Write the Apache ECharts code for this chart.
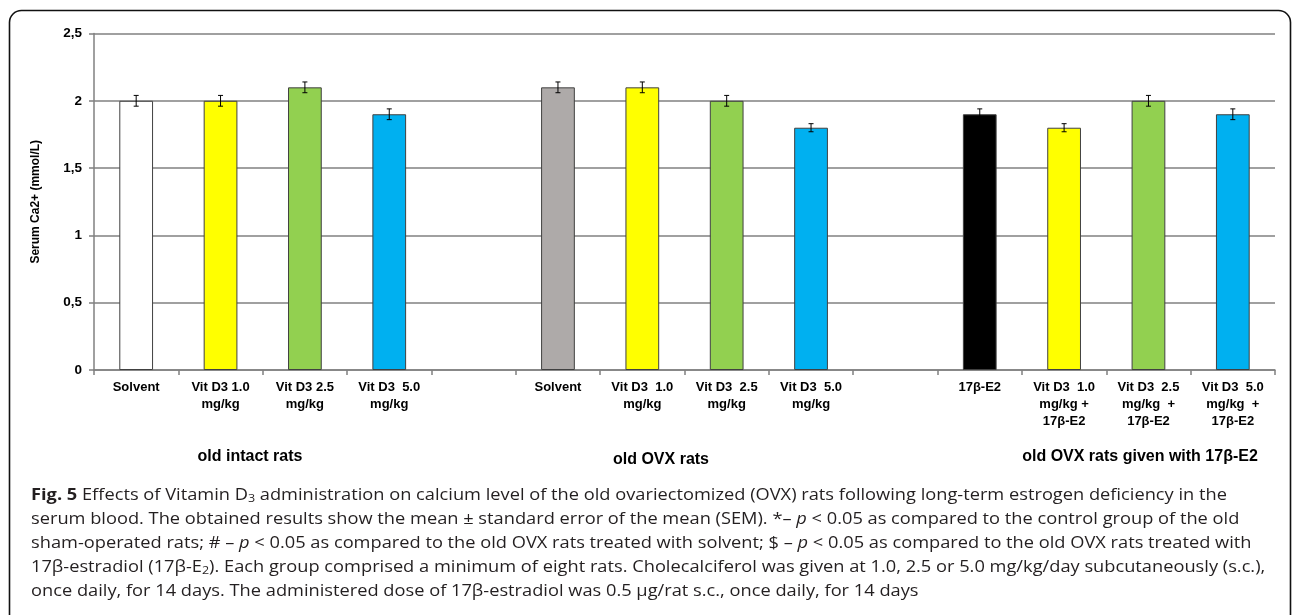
<!DOCTYPE html>
<html>
<head>
<meta charset="utf-8">
<script src="https://cdn.jsdelivr.net/npm/echarts@6/dist/echarts.min.js"></script>
<style>
  html, body { margin: 0; padding: 0; background: #fff; }
  #chart { width: 1292px; height: 615px; }
</style>
</head>
<body>
<div id="chart"></div>
<script>
// Group categories along the x axis (blank entries separate the groups)
const categories = [
  'Solvent', 'Vit D3 1.0\nmg/kg', 'Vit D3 2.5\nmg/kg', 'Vit D3  5.0\nmg/kg', '',
  'Solvent', 'Vit D3  1.0\nmg/kg', 'Vit D3  2.5\nmg/kg', 'Vit D3  5.0\nmg/kg', '',
  '17β-E2', 'Vit D3  1.0\nmg/kg +\n17β-E2', 'Vit D3  2.5\nmg/kg  +\n17β-E2', 'Vit D3  5.0\nmg/kg  +\n17β-E2'
];

// Mean serum Ca2+ (mmol/L) per group
const meanCa = [
  2.0, 2.0, 2.1, 1.9, null,
  2.1, 2.1, 2.0, 1.8, null,
  1.9, 1.8, 2.0, 1.9
];

// Standard error of the mean per group
const semCa = [
  0.04, 0.04, 0.04, 0.04, null,
  0.04, 0.04, 0.04, 0.03, null,
  0.04, 0.03, 0.04, 0.04
];

// Bar fill per group
const barColors = [
  '#FFFFFF', '#FFFF00', '#92D050', '#00B0F0', null,
  '#AEAAA9', '#FFFF00', '#92D050', '#00B0F0', null,
  '#000000', '#FFFF00', '#92D050', '#00B0F0'
];

// Y tick labels use a decimal comma
const yTickLabels = { 0: '0', 0.5: '0,5', 1: '1', 1.5: '1,5', 2: '2', 2.5: '2,5' };

// Group names under the axis
const groupNames = ['old intact rats', 'old OVX rats', 'old OVX rats given with 17β-E2'];

// Figure caption, one entry per line (rich-text markup)
const captionLines = [
  '{b|Fig. 5} Effects of Vitamin D{sub|3} administration on calcium level of the old ovariectomized (OVX) rats following long-term estrogen deficiency in the',
  'serum blood. The obtained results show the mean ± standard error of the mean (SEM). *– {i|p} < 0.05 as compared to the control group of the old',
  'sham-operated rats; # – {i|p} < 0.05 as compared to the old OVX rats treated with solvent; $ – {i|p} < 0.05 as compared to the old OVX rats treated with',
  '17β-estradiol (17β-E{sub|2}). Each group comprised a minimum of eight rats. Cholecalciferol was given at 1.0, 2.5 or 5.0 mg/kg/day subcutaneously (s.c.),',
  'once daily, for 14 days. The administered dose of 17β-estradiol was 0.5 μg/rat s.c., once daily, for 14 days'
];

const chart = echarts.init(document.getElementById('chart'), null, { renderer: 'canvas' });

const AXIS_FONT = '"Liberation Sans", Arial, sans-serif';
const CAP_FONT = '"Open Sans", "Noto Sans", sans-serif';
const GRID_GRAY = '#808080';

const barData = meanCa.map((v, i) => v == null ? null : {
  value: v,
  itemStyle: { color: barColors[i] }
});

const errData = [];
meanCa.forEach((v, i) => { if (v != null) errData.push([i, v, semCa[i]]); });

const groupLabelPos = [[250, 457], [661, 460], [1140, 457]];

const graphics = [
  {
    type: 'rect', silent: true, z: 0,
    shape: { x: 9.5, y: 10.5, width: 1281, height: 700, r: 12 },
    style: { fill: 'none', stroke: '#111', lineWidth: 1.6 }
  }
];
groupNames.forEach((name, k) => {
  graphics.push({
    type: 'text', silent: true,
    x: groupLabelPos[k][0], y: groupLabelPos[k][1],
    style: {
      text: name, fill: '#000',
      font: 'bold 16px ' + AXIS_FONT,
      align: 'center', verticalAlign: 'middle'
    }
  });
});
// Caption glyphs are set a little wider than the stock font
const CAP_SCALE = 1.14;
captionLines.forEach((line, k) => {
  graphics.push({
    type: 'text', silent: true,
    x: 31, y: 495 + k * 24.2,
    scaleX: CAP_SCALE,
    style: {
      text: line, fill: '#231f20',
      font: '16px ' + CAP_FONT,
      verticalAlign: 'middle',
      rich: {
        b: { fontWeight: 'bold', fontSize: 16, fontFamily: CAP_FONT },
        i: { fontStyle: 'italic', fontSize: 16, fontFamily: CAP_FONT },
        sub: { fontSize: 11, fontFamily: CAP_FONT, padding: [7, 0, 0, 0] }
      }
    }
  });
});

const option = {
  backgroundColor: '#fff',
  animation: false,
  grid: {
    left: 94, right: 17, top: 33.5, bottom: 245,
    outerBoundsMode: 'none'
  },
  xAxis: {
    type: 'category',
    data: categories,
    axisLine: { show: true, lineStyle: { color: GRID_GRAY, width: 1.5 } },
    axisTick: { show: true, interval: 0, length: 5, lineStyle: { color: GRID_GRAY, width: 1.5 } },
    axisLabel: {
      interval: 0, margin: 9, color: '#000',
      fontFamily: AXIS_FONT, fontWeight: 'bold', fontSize: 13, lineHeight: 17
    },
    splitLine: { show: false }
  },
  yAxis: {
    type: 'value',
    min: 0, max: 2.5, interval: 0.5,
    name: 'Serum Ca2+ (mmol/L)',
    nameLocation: 'middle',
    nameRotate: 90,
    nameGap: 52,
    nameTextStyle: { fontFamily: AXIS_FONT, fontWeight: 'bold', fontSize: 12, color: '#000' },
    axisLine: { show: true, lineStyle: { color: GRID_GRAY, width: 1.5 } },
    axisTick: { show: true, length: 5, lineStyle: { color: GRID_GRAY, width: 1.5 } },
    axisLabel: {
      margin: 12, color: '#000',
      fontFamily: AXIS_FONT, fontWeight: 'bold', fontSize: 13.5,
      formatter: v => yTickLabels[v] != null ? yTickLabels[v] : String(v)
    },
    splitLine: { show: true, lineStyle: { color: GRID_GRAY, width: 1.5 } }
  },
  series: [
    {
      type: 'bar',
      data: barData,
      barWidth: '40%',
      itemStyle: { borderColor: '#404040', borderWidth: 1 },
      z: 2
    },
    {
      type: 'custom',
      data: errData,
      encode: { x: 0, y: 1 },
      z: 3,
      renderItem: (params, api) => {
        const x = api.value(0), v = api.value(1), e = api.value(2);
        const top = api.coord([x, v + e]);
        const bot = api.coord([x, v - e]);
        const hw = 2.5;
        const st = { stroke: '#000', lineWidth: 1 };
        return {
          type: 'group',
          children: [
            { type: 'line', shape: { x1: top[0], y1: top[1], x2: bot[0], y2: bot[1] }, style: st },
            { type: 'line', shape: { x1: top[0] - hw, y1: top[1], x2: top[0] + hw, y2: top[1] }, style: st },
            { type: 'line', shape: { x1: bot[0] - hw, y1: bot[1], x2: bot[0] + hw, y2: bot[1] }, style: st }
          ]
        };
      }
    }
  ],
  graphic: graphics
};

chart.setOption(option);
</script>
</body>
</html>
